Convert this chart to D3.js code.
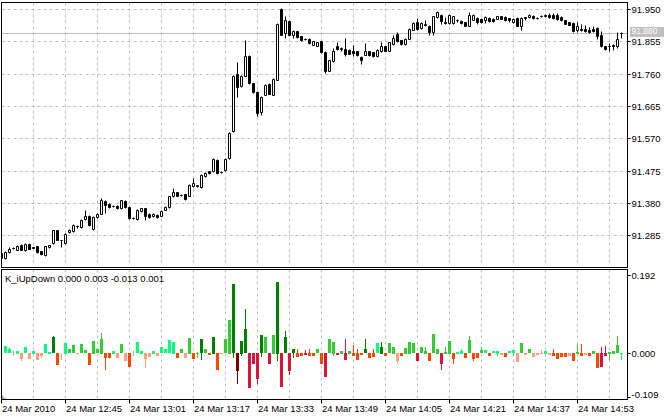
<!DOCTYPE html>
<html><head><meta charset="utf-8">
<script src="https://cdn.jsdelivr.net/npm/d3@7"></script>
<style>
body{margin:0;background:#fff;}
svg{display:block;}
text{font-family:"Liberation Sans",Arial,sans-serif;font-size:9.5px;}
</style>
</head><body><svg id="c" width="664" height="418"></svg>
<script>
// ---- price data (1-minute bars, 24 Mar 2010 12:29 .. 15:04) ----
const opens=[91.218,91.218,91.236,91.248,91.243,91.258,91.241,91.260,91.250,91.253,
91.238,91.228,91.251,91.262,91.300,91.271,91.261,91.294,91.297,91.311,
91.310,91.333,91.343,91.304,91.339,91.349,91.387,91.378,91.370,91.372,
91.365,91.387,91.369,91.336,91.333,91.357,91.364,91.349,91.341,91.346,
91.343,91.360,91.368,91.400,91.411,91.403,91.405,91.402,91.429,91.431,
91.427,91.458,91.473,91.473,91.507,91.471,91.476,91.512,91.593,91.760,
91.725,91.754,91.813,91.732,91.706,91.646,91.698,91.730,91.698,91.742,
91.950,91.879,91.914,91.875,91.884,91.870,91.862,91.862,91.845,91.842,
91.855,91.824,91.769,91.796,91.842,91.833,91.833,91.830,91.828,91.826,
91.809,91.816,91.826,91.823,91.811,91.826,91.840,91.828,91.847,91.877,
91.858,91.847,91.863,91.889,91.911,91.894,91.904,91.901,91.881,91.926,
91.933,91.911,91.909,91.909,91.917,91.914,91.911,91.901,91.919,91.924,
91.921,91.917,91.924,91.921,91.922,91.928,91.926,91.924,91.911,91.924,
91.901,91.926,91.926,91.930,91.924,91.928,91.928,91.933,91.933,91.933,
91.926,91.917,91.911,91.909,91.887,91.891,91.891,91.887,91.891,91.894,
91.875,91.840,91.842,91.845,91.840,91.879];
const highs=[91.235,91.238,91.250,91.252,91.256,91.260,91.262,91.262,91.251,91.255,
91.240,91.255,91.258,91.302,91.302,91.272,91.291,91.304,91.318,91.315,
91.333,91.358,91.345,91.341,91.351,91.395,91.389,91.380,91.373,91.374,
91.390,91.389,91.371,91.339,91.362,91.366,91.366,91.351,91.350,91.348,
91.359,91.370,91.402,91.424,91.413,91.406,91.407,91.436,91.454,91.434,
91.465,91.470,91.475,91.512,91.509,91.473,91.511,91.588,91.756,91.793,
91.756,91.858,91.815,91.734,91.708,91.693,91.730,91.732,91.746,91.909,
91.952,91.928,91.917,91.887,91.886,91.872,91.866,91.864,91.857,91.854,
91.857,91.826,91.801,91.835,91.852,91.837,91.865,91.832,91.845,91.828,
91.811,91.850,91.828,91.825,91.832,91.852,91.842,91.854,91.875,91.881,
91.860,91.865,91.893,91.911,91.924,91.911,91.919,91.903,91.930,91.945,
91.935,91.926,91.936,91.930,91.922,91.917,91.913,91.940,91.935,91.926,
91.924,91.930,91.927,91.923,91.930,91.930,91.928,91.925,91.923,91.926,
91.926,91.926,91.936,91.932,91.926,91.931,91.935,91.938,91.938,91.938,
91.928,91.919,91.913,91.911,91.911,91.907,91.904,91.897,91.901,91.896,
91.884,91.842,91.850,91.848,91.881,91.882];
const lows=[91.215,91.216,91.234,91.245,91.241,91.241,91.239,91.244,91.248,91.233,
91.228,91.223,91.249,91.260,91.270,91.251,91.259,91.292,91.295,91.308,
91.308,91.331,91.312,91.302,91.337,91.347,91.351,91.366,91.367,91.362,
91.363,91.366,91.334,91.333,91.331,91.355,91.331,91.336,91.339,91.337,
91.341,91.358,91.366,91.398,91.400,91.400,91.390,91.400,91.427,91.427,
91.425,91.456,91.466,91.471,91.466,91.468,91.474,91.510,91.590,91.691,
91.721,91.752,91.730,91.703,91.636,91.639,91.696,91.699,91.696,91.740,
91.873,91.865,91.870,91.866,91.865,91.856,91.859,91.848,91.843,91.840,
91.822,91.762,91.767,91.794,91.831,91.828,91.811,91.817,91.813,91.811,
91.788,91.814,91.812,91.809,91.809,91.824,91.826,91.826,91.845,91.853,
91.845,91.845,91.861,91.887,91.889,91.892,91.899,91.874,91.874,91.924,
91.907,91.906,91.907,91.907,91.912,91.907,91.899,91.899,91.917,91.907,
91.909,91.909,91.912,91.911,91.920,91.920,91.915,91.911,91.909,91.899,
91.889,91.917,91.924,91.921,91.921,91.926,91.926,91.924,91.922,91.919,
91.915,91.905,91.902,91.881,91.881,91.885,91.882,91.880,91.882,91.862,
91.838,91.830,91.828,91.830,91.835,91.865];
const closes=[91.232,91.236,91.246,91.249,91.253,91.243,91.260,91.246,91.249,91.235,
91.230,91.253,91.256,91.300,91.272,91.270,91.289,91.302,91.316,91.312,
91.331,91.343,91.314,91.339,91.349,91.388,91.375,91.368,91.371,91.364,
91.388,91.368,91.336,91.337,91.360,91.364,91.343,91.338,91.348,91.339,
91.357,91.368,91.400,91.413,91.402,91.404,91.392,91.434,91.439,91.432,
91.463,91.468,91.468,91.510,91.468,91.470,91.509,91.586,91.754,91.721,
91.754,91.813,91.732,91.705,91.644,91.691,91.728,91.701,91.744,91.907,
91.875,91.917,91.875,91.884,91.868,91.858,91.863,91.850,91.855,91.852,
91.824,91.767,91.799,91.826,91.833,91.834,91.818,91.819,91.821,91.816,
91.799,91.826,91.814,91.811,91.830,91.842,91.828,91.852,91.865,91.855,
91.847,91.863,91.891,91.909,91.891,91.909,91.905,91.881,91.928,91.940,
91.914,91.908,91.933,91.928,91.917,91.909,91.901,91.933,91.933,91.911,
91.911,91.926,91.914,91.914,91.928,91.922,91.917,91.917,91.921,91.901,
91.924,91.925,91.933,91.924,91.923,91.929,91.933,91.926,91.924,91.921,
91.917,91.907,91.904,91.884,91.899,91.887,91.884,91.882,91.884,91.872,
91.840,91.832,91.841,91.840,91.862,91.880];
const lastPrice=91.880;
const priceTicks=[91.950,91.855,91.760,91.665,91.570,91.475,91.380,91.285];

// ---- K_iUpDown indicator ----
const upDownBody=[0,0.018,0.010,0,0.007,-0.015,0.015,-0.015,0.007,-0.017,
-0.008,0.023,0.004,0.040,-0.029,0,0.026,0.010,0.021,-0.003,
0.023,0.008,-0.029,0.031,0.010,0.037,-0.012,-0.012,0.007,-0.012,
0.023,-0.021,-0.035,0,0.028,0.007,-0.015,-0.010,0.007,-0.007,
0.015,0.010,0.033,0.029,-0.012,0.010,-0.012,0.039,-0.014,0.002,
0.035,0.010,-0.004,0.041,-0.041,-0.003,0.035,0.083,0.172,-0.045,
0.031,0.060,-0.087,-0.026,-0.064,0.045,0.040,-0.026,0.047,0.177,
-0.084,0.040,-0.045,0.010,-0.010,-0.008,-0.006,-0.008,-0.008,0.010,
-0.026,-0.059,0.035,0.029,-0.006,0.007,-0.017,0.007,-0.008,-0.017,
-0.006,0.010,-0.012,-0.010,0.025,0.017,-0.008,0.025,0.017,-0.019,
-0.008,0.014,0.029,0.025,-0.021,0.015,0.007,-0.021,0.048,0.012,
-0.026,0.004,0.031,-0.015,0.004,0.007,-0.012,0.033,-0.015,-0.012,
0.008,0.008,-0.008,0.006,0.007,-0.004,-0.011,0.006,0.008,-0.023,
0.025,-0.004,0.010,-0.010,-0.005,-0.002,0.007,-0.006,-0.008,-0.015,
-0.010,-0.010,-0.008,-0.021,0.004,-0.007,-0.004,-0.008,0.007,-0.037,
-0.035,-0.008,0.004,0.007,0.021,0.002];
const upDownHigh=[0,0,0.014,0.007,0,0,0,0,0,0,
0,0,0,0.043,0,0,0,0,0,0,
0,0,0,0,0,0.051,0,0,0,0,
0,0,0,0.007,0,0,0,0,0,0,
0,0,0,0,0,0,0,0,0,0.004,
0,0,0,0,0,0,0,0,0,0,
0,0.109,0,0,0,0,0,0,0,0,
0,0.055,0,0,0.010,0,0.008,0.010,0,0,
0,0,0,0,0,0,0.035,0,0.021,0.010,
0,0.035,0,0.010,0,0.029,0,0,0,0,
0,0,0,0,0,0,0.015,0,0,0,
0,0.015,0,0,0,0.010,0,0.043,0,0,
0.017,0,0,0,0,0,0,0,0,0,
0,0,0,0,0,0.008,0,0,0.010,0,
0,0,0,0,0.021,0.023,0,0,0,0,
0.015,0.018,0,0,0.043,0];
const upDownLow=[-0.016,0,0,-0.007,0,-0.018,0,0,0,0,
-0.012,0,0,0,0,-0.017,0,0,0,0,
0,0,0,0,0,0,-0.040,0,0,0,
0,0,0,-0.007,0,0,-0.037,0,0,0,
0,0,0,0,0,0,0,0,0,-0.012,
-0.015,0,0,0,0,0,0,0,-0.012,-0.076,
-0.007,0,0,0,-0.076,-0.008,0,0,0,-0.019,
0,0,-0.054,-0.010,0,0,0,0,0,0,
0,0,0,-0.006,0,0,0,0,0,0,
0,0,0,0,0,0,0,0,0,-0.027,
0,0,0,0,0,0,0,0,0,0,
-0.041,0,0,-0.026,0,0,0,0,-0.018,0,
0,0,0,0,-0.006,0,0,0,-0.005,0,
0,0,0,0,0,0,0,0,0,0,
0,0,0,0,0,0,0,0,0,0,
0,0,-0.015,0,0,-0.015];
// strength level of each bar (1 weak .. 3/4 strong)
const upDownLevel=[1,1,1,1,1,1,1,1,1,1,
1,1,1,3,2,1,1,2,2,1,
2,2,2,2,2,2,2,2,1,1,
2,1,2,1,1,1,1,1,1,1,
1,1,1,1,2,2,1,2,2,2,
3,2,2,3,2,1,2,2,3,4,
3,3,3,3,3,3,2,3,2,3,
3,3,3,3,2,2,3,2,2,2,
2,3,2,2,3,2,3,2,2,2,
2,3,2,2,1,3,2,2,2,1,
2,2,2,2,3,2,2,2,2,2,
3,2,2,2,1,1,2,2,2,2,
2,1,2,1,1,1,2,1,1,1,
2,1,2,1,1,1,1,1,2,2,
2,2,1,2,2,2,1,2,2,2,
3,3,2,2,2,1];
const indName="K_iUpDown";
const indValues=[0.000,0.003,-0.013,0.001];
const indTicks=[0.192,0.000,-0.109];

// ---- time axis ----
const timeTickBars=[0,16,32,48,64,80,96,112,128,144];
const timeTickLabels=["24 Mar 2010","24 Mar 12:45","24 Mar 13:01","24 Mar 13:17","24 Mar 13:33",
"24 Mar 13:49","24 Mar 14:05","24 Mar 14:21","24 Mar 14:37","24 Mar 14:53"];
const gridBars=d3.range(8,156,8);

// ---- layout ----
const L=1.5,R=627.5,mT=2.5,mB=267.5,iT=269.5,iB=399.5;
const posCol=[null,"#00FF7F","#32CD32","#008000"];
const negCol=[null,"#FFA07A","#FF4500","#DC143C","#800000"];
const gridCol="#C0C0C0";

const svg=d3.select("#c");
const x=d3.scaleLinear().domain([0,opens.length-1]).range([1.5,1.5+4*(opens.length-1)]);
const y=d3.scaleLinear().domain([91.19195,91.97057]).range([mB,mT]);
const yi=d3.scaleLinear().domain([-0.1139,0.2079]).range([iB,iT]);
const snap=v=>Math.round(v-0.5)+0.5;

// clip paths
const defs=svg.append("defs");
defs.append("clipPath").attr("id","cm").append("rect").attr("x",L).attr("y",mT).attr("width",R-L).attr("height",mB-mT);
defs.append("clipPath").attr("id","ci").append("rect").attr("x",L).attr("y",iT).attr("width",R-L).attr("height",iB-iT);

// grid main
const gm=svg.append("g").attr("stroke",gridCol).attr("stroke-dasharray","3,3").attr("fill","none");
gm.selectAll(".hv").data(priceTicks).join("line")
  .attr("x1",L).attr("x2",R).attr("y1",d=>snap(y(d))).attr("y2",d=>snap(y(d)));
gm.selectAll(".vv").data(gridBars).join("line")
  .attr("x1",d=>x(d)).attr("x2",d=>x(d)).attr("y1",mT).attr("y2",mB);
const gi=svg.append("g").attr("stroke",gridCol).attr("stroke-dasharray","3,3").attr("fill","none");
gi.selectAll("line").data(gridBars).join("line")
  .attr("x1",d=>x(d)).attr("x2",d=>x(d)).attr("y1",iT).attr("y2",iB);

// last price line
svg.append("line").attr("x1",L).attr("x2",R).attr("y1",snap(y(lastPrice))).attr("y2",snap(y(lastPrice)))
  .attr("stroke",gridCol);

// candles
const cg=svg.append("g").attr("clip-path","url(#cm)");
const idx=d3.range(opens.length);
cg.selectAll(".w").data(idx).join("line")
  .attr("x1",i=>x(i)).attr("x2",i=>x(i))
  .attr("y1",i=>snap(y(highs[i]))).attr("y2",i=>snap(y(lows[i])))
  .attr("stroke","#000");
cg.selectAll(".b").data(idx).join("path")
  .attr("d",i=>{
    const t=snap(y(Math.max(opens[i],closes[i]))), b=snap(y(Math.min(opens[i],closes[i])));
    const x0=x(i)-1,x1=x(i)+1;
    return `M${x0},${t}H${x1}V${b}H${x0}Z`;
  })
  .attr("fill",i=>closes[i]>=opens[i]?"#fff":"#000")
  .attr("stroke","#000");

// indicator
const ig=svg.append("g").attr("clip-path","url(#ci)").attr("shape-rendering","crispEdges");
const z=yi(0);
const colorOf=(v,lvl)=>v>=0?posCol[Math.min(lvl,3)]:negCol[lvl];
ig.selectAll(".th").data(idx.filter(i=>upDownHigh[i]>0)).join("line")
  .attr("x1",i=>x(i)).attr("x2",i=>x(i)).attr("y1",z).attr("y2",i=>yi(upDownHigh[i]))
  .attr("stroke",i=>colorOf(upDownBody[i]!==0?upDownBody[i]:1,upDownLevel[i]));
ig.selectAll(".tl").data(idx.filter(i=>upDownLow[i]<0)).join("line")
  .attr("x1",i=>x(i)).attr("x2",i=>x(i)).attr("y1",z).attr("y2",i=>yi(upDownLow[i]))
  .attr("stroke",i=>colorOf(upDownBody[i]!==0?upDownBody[i]:-1,upDownLevel[i]));
ig.selectAll(".bd").data(idx.filter(i=>upDownBody[i]!==0)).join("rect")
  .attr("x",i=>x(i)-1.5).attr("width",3)
  .attr("y",i=>Math.round(Math.min(z,yi(upDownBody[i]))))
  .attr("height",i=>Math.max(1,Math.round(Math.abs(yi(upDownBody[i])-z))))
  .attr("fill",i=>colorOf(upDownBody[i],upDownLevel[i]));

// small scroll marker
svg.append("path").attr("d","M2,395L2,399L6,399Z").attr("fill","#B0B0B0");

// frames
const fr=svg.append("g").attr("fill","none").attr("stroke","#000");
fr.append("rect").attr("x",L).attr("y",mT).attr("width",R-L).attr("height",mB-mT);
fr.append("rect").attr("x",L).attr("y",iT).attr("width",R-L).attr("height",iB-iT);

// price axis
const pa=svg.append("g");
pa.selectAll("line").data(priceTicks).join("line")
  .attr("x1",R).attr("x2",R+3).attr("y1",d=>snap(y(d))).attr("y2",d=>snap(y(d))).attr("stroke","#000");
pa.selectAll("text").data(priceTicks).join("text")
  .attr("x",R+4).attr("y",d=>snap(y(d))+3.5).text(d=>d.toFixed(3)).attr("fill","#000");
// last price label
const ly=snap(y(lastPrice));
svg.append("rect").attr("x",R+2.5).attr("y",ly-6.5).attr("width",34).attr("height",10).attr("fill",gridCol);
svg.append("text").attr("x",R+4).attr("y",ly+0.5).attr("fill","#fff").style("font-size","8.5px").text(lastPrice.toFixed(3));

// indicator axis
const ia=svg.append("g");
ia.selectAll("line").data(indTicks).join("line")
  .attr("x1",R).attr("x2",R+3).attr("y1",d=>snap(yi(d))).attr("y2",d=>snap(yi(d))).attr("stroke","#000");
ia.selectAll("text").data(indTicks).join("text")
  .attr("x",R+4).attr("y",d=>Math.min(snap(yi(d))+3.5,398)).text(d=>d.toFixed(3)).attr("fill","#000");

// indicator legend
svg.append("text").attr("x",5).attr("y",281.5).attr("fill","#000")
  .text(indName+" "+indValues.map(v=>v.toFixed(3)).join(" "));

// time axis
const ta=svg.append("g");
ta.selectAll("line").data(timeTickBars).join("line")
  .attr("x1",d=>x(d)).attr("x2",d=>x(d)).attr("y1",iB).attr("y2",iB+4).attr("stroke","#000");
ta.selectAll("text").data(timeTickBars).join("text")
  .attr("x",d=>x(d)+0.5).attr("y",412).attr("fill","#000").text((d,k)=>timeTickLabels[k]);
</script>
</body></html>
